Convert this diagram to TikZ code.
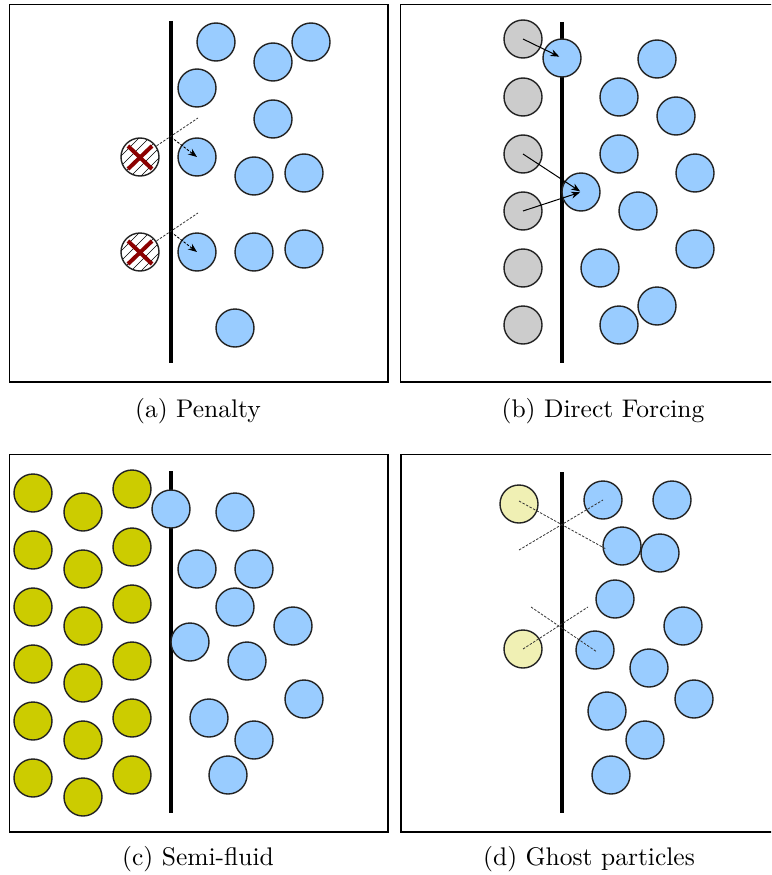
\documentclass[tikz,border=0pt]{standalone}
\usetikzlibrary{arrows.meta,calc}
\definecolor{bluefill}{HTML}{99CCFF}
\definecolor{grayfill}{HTML}{CCCCCC}
\definecolor{olivefill}{HTML}{CCCC00}
\definecolor{palefill}{HTML}{F0F0B4}
\definecolor{xred}{HTML}{8B0000}
\definecolor{rim}{HTML}{222222}
\tikzset{
  part/.style={circle, draw=rim, line width=1.4pt, minimum size=38pt, inner sep=0pt},
  bp/.style={part, fill=bluefill},
  gp/.style={part, fill=grayfill},
  yp/.style={part, fill=olivefill},
  pp/.style={part, fill=palefill},
  hp/.style={part, fill=white},
  wall/.style={line width=3.5pt, black},
  frame/.style={line width=1.2pt, black},
  ray/.style={line width=0.8pt, black!80, dash pattern=on 2.5pt off 1.5pt},
  shot/.style={line width=1pt, black, -{Stealth[length=9pt,width=7pt]}},
  captext/.style={anchor=base, scale=2.55, font=\fontsize{10}{12}\selectfont},
}
\begin{document}
\begin{tikzpicture}[x=1pt,y=-1pt]
\useasboundingbox (0,0) rectangle (771,875);
\clip (0,0) rectangle (771,875);
% ---------------- (a) Penalty
\draw[frame] (9.5,4.5) rectangle (388,382);
\draw[wall] (171,21) -- (171,363);
\node[bp] (a1) at (216,42) {};
\node[bp] (a2) at (273,62) {};
\node[bp] (a3) at (311,42) {};
\node[bp] (a4) at (197,88) {};
\node[bp] (a5) at (273,119) {};
\node[bp] (a6) at (197,157) {};
\node[bp] (a7) at (254,176) {};
\node[bp] (a8) at (304,173) {};
\node[bp] (a9) at (197,252) {};
\node[bp] (a10) at (254,252) {};
\node[bp] (a11) at (304,249) {};
\node[bp] (a12) at (235,328) {};
\coordinate (ae1) at (198,118);
\coordinate (aw1) at (171,137);
\coordinate (ae2) at (198,213);
\coordinate (aw2) at (171,232);
\coordinate (ah1c) at (140,157);
\coordinate (ah2c) at (140,252);
\draw[ray] (ah1c) -- (ae1);
\draw[ray] (ah2c) -- (ae2);
\foreach \n in {ah1,ah2}{
  \node[hp] (\n) at (\n c) {};
  \begin{scope}
    \clip (\n c) circle (18.5);
    \foreach \d in {-30,-20,...,30}
      \draw[line width=0.6pt] ($(\n c)+(\d-25,25)$) -- ($(\n c)+(\d+25,-25)$);
  \end{scope}
  \draw[xred, line width=4pt] ($(\n c)+(-12,-11)$) -- ($(\n c)+(12,12)$);
  \draw[xred, line width=4pt] ($(\n c)+(-12,12)$) -- ($(\n c)+(12,-11)$);
}
\draw[shot, dash pattern=on 2.5pt off 1.5pt, line width=0.9pt] (aw1) -- (a6.center);
\draw[shot, dash pattern=on 2.5pt off 1.5pt, line width=0.9pt] (aw2) -- (a9.center);
\node[captext] (capa) at (198,417) {(a) Penalty};
% ---------------- (b) Direct Forcing
\draw[frame] (400.5,4.5) rectangle (790,382);
\draw[wall] (562,22) -- (562,363);
\node[gp] (g1) at (523,39) {};
\node[gp] (g2) at (523,97) {};
\node[gp] (g3) at (523,154) {};
\node[gp] (g4) at (523,211) {};
\node[gp] (g5) at (523,268) {};
\node[gp] (g6) at (523,325) {};
\node[bp] (b1) at (562,58) {};
\node[bp] (b2) at (657,59) {};
\node[bp] (b3) at (619,97) {};
\node[bp] (b4) at (676,116) {};
\node[bp] (b5) at (619,154) {};
\node[bp] (b6) at (695,173) {};
\node[bp] (b7) at (581,192) {};
\node[bp] (b8) at (638,211) {};
\node[bp] (b9) at (695,249) {};
\node[bp] (b10) at (600,268) {};
\node[bp] (b11) at (657,306) {};
\node[bp] (b12) at (619,325) {};
\draw[shot, shorten >=3pt] (g1.center) -- (b1.center);
\draw[shot, shorten >=1pt] (g3.center) -- (b7.center);
\draw[shot, shorten >=1pt] (g4.center) -- (b7.center);
\node[captext] (capb) at (603,417) {(b) Direct Forcing};
% ---------------- (c) Semi-fluid
\draw[frame] (9.5,454.5) rectangle (388,832);
\draw[wall] (171,471) -- (171,813);
\foreach \y [count=\i] in {493,550,607,664,721,778}
  \node[yp] (s1\i) at (33,\y) {};
\foreach \y [count=\i] in {512,569,626,683,740,797}
  \node[yp] (s2\i) at (83,\y) {};
\foreach \y [count=\i] in {489,547,604,661,718,775}
  \node[yp] (s3\i) at (132,\y) {};
\node[bp] (c1) at (171,509) {};
\node[bp] (c2) at (235,512) {};
\node[bp] (c3) at (197,569) {};
\node[bp] (c4) at (254,569) {};
\node[bp] (c5) at (235,607) {};
\node[bp] (c6) at (293,626) {};
\node[bp] (c7) at (190,642) {};
\node[bp] (c8) at (247,661) {};
\node[bp] (c9) at (304,699) {};
\node[bp] (c10) at (209,718) {};
\node[bp] (c11) at (254,740) {};
\node[bp] (c12) at (228,775) {};
\node[captext] (capc) at (198,865) {(c) Semi-fluid};
% ---------------- (d) Ghost particles
\draw[frame] (401,454.5) rectangle (790,832);
\draw[wall] (562,472) -- (562,813);
\node[pp] (y1) at (519,504) {};
\node[pp] (y2) at (523,649) {};
\node[bp] (d1) at (603,500) {};
\node[bp] (d2) at (672,500) {};
\node[bp] (d3) at (622,546) {};
\node[bp] (d4) at (660,553) {};
\node[bp] (d5) at (615,599) {};
\node[bp] (d6) at (683,626) {};
\node[bp] (d7) at (595,650) {};
\node[bp] (d8) at (649,668) {};
\node[bp] (d9) at (694,699) {};
\node[bp] (d10) at (607,711) {};
\node[bp] (d11) at (645,740) {};
\node[bp] (d12) at (611,775) {};
\coordinate (dl1a) at (519,501);
\coordinate (dl1b) at (606,549);
\coordinate (dl2a) at (519,550);
\coordinate (dl2b) at (603,500);
\coordinate (dl3a) at (531,607);
\coordinate (dl3b) at (597,652);
\coordinate (dl4a) at (523,649);
\coordinate (dl4b) at (588,607);
\draw[ray] (dl1a) -- (dl1b);
\draw[ray] (dl2a) -- (dl2b);
\draw[ray] (dl3a) -- (dl3b);
\draw[ray] (dl4a) -- (dl4b);
\node[captext] (capd) at (589,865) {(d) Ghost particles};
\end{tikzpicture}
\end{document}
